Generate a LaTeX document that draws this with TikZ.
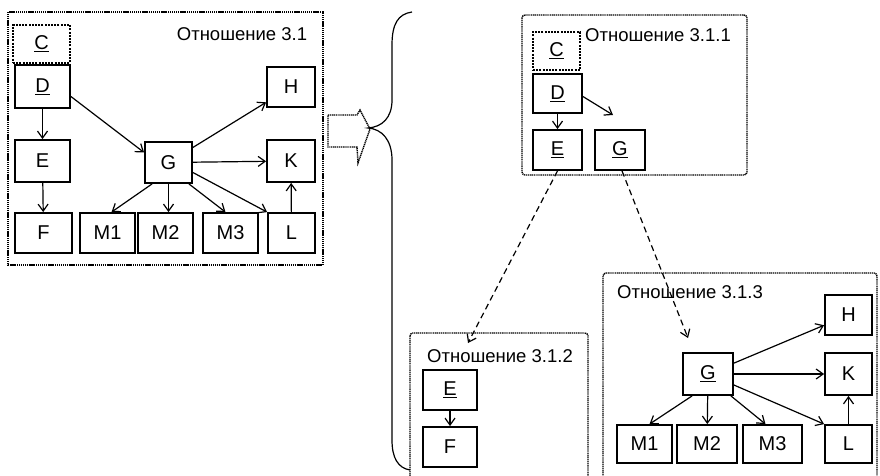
\documentclass[tikz,border=0pt]{standalone}
\usepackage{fontspec}
\setmainfont{Liberation Sans}
\usetikzlibrary{arrows.meta}

\tikzset{
  rel/.style={draw,line width=1.8pt,minimum width=55pt,minimum height=40pt,inner sep=0pt,font=\fontsize{20}{22}\selectfont},
  keybox/.style={rel,dash pattern=on 2pt off 1.2pt},
  relframe/.style={line width=1.4pt,dash pattern=on 1.2pt off 0.7pt},
  reltitle/.style={inner sep=0pt,font=\fontsize{18.5}{20}\selectfont},
  arr/.style={line width=1.2pt,-{Straight Barb[length=7pt,width=10pt]}},
  derive/.style={arr,dash pattern=on 6pt off 4pt},
}

\begin{document}
\begin{tikzpicture}[x=1pt,y=-1pt]
\clip (0,0) rectangle (880,476);
\fill[white] (0,0) rectangle (880,476);

% relation 3.1
\draw[relframe] (8,12) rectangle (323,265);
\node[reltitle] (t31) at (242,34) {Отношение 3.1};
\node[keybox,minimum width=57pt,minimum height=38pt] (c) at (41.5,44) {\underline{C}};
\node[rel,minimum height=43pt] (d) at (42.5,86.5) {\underline{D}};
\node[rel,minimum height=42pt] (e) at (42.5,161) {E};
\node[rel,minimum width=57pt] (f) at (43.5,233) {F};
\node[rel] (m1) at (107.5,233) {M1};
\node[rel] (m2) at (165.5,233) {M2};
\node[rel] (m3) at (230.5,233) {M3};
\node[rel,minimum width=47pt] (l) at (291.5,233) {L};
\node[rel,minimum width=47pt,minimum height=41pt] (g) at (168.5,162.5) {G};
\node[rel,minimum width=48pt] (h) at (291,87) {H};
\node[rel,minimum width=48pt,minimum height=42pt] (k) at (291,161) {K};

\draw[arr] (d) -- (e);
\draw[arr] (e) -- (f);
\draw[arr] ([yshift=-10pt]d.east) -- ([yshift=10pt]g.west);
\draw[arr] (g) -- (h);
\draw[arr] (g) -- (k);
\draw[arr] ([xshift=8pt]g.south west) -- ([xshift=4pt]m1.north);
\draw[arr] (g.south) -- (g.south |- m2.north);
\draw[arr] ([xshift=-4pt]g.south east) -- ([xshift=-5pt]m3.north);
\draw[arr] ([yshift=-10pt]g.east) -- (l.north west);
\draw[arr] (l) -- (k);

% decomposition arrow and brace
\draw[relframe] (328,115) -- (357,115) -- (360,110) -- (370,129) -- (358,163) -- (357,147) -- (328,147) -- cycle;
\draw[line width=1.2pt] (412,12) .. controls (398,14) and (392,24) .. (392,45) -- (392,100)
  .. controls (392,118) and (382,127) .. (368,128)
  .. controls (382,129) and (392,140) .. (392,160) -- (392,440)
  .. controls (392,458) and (398,468) .. (410,470);

% relation 3.1.1
\draw[relframe,rounded corners=3pt] (522,15) rectangle (747,175);
\node[reltitle] (t311) at (658,35) {Отношение 3.1.1};
\node[keybox,minimum width=47pt,minimum height=38pt] (c1) at (556.5,51) {\underline{C}};
\node[rel,minimum width=49pt,minimum height=39pt] (d1) at (557.5,93.5) {\underline{D}};
\node[rel,minimum width=49pt] (e1) at (557.5,150) {\underline{E}};
\node[rel,minimum width=50pt] (g1) at (620,150) {\underline{G}};
\coordinate (g1in) at (613,115);
\draw[arr] (d1) -- (e1);
\draw[arr] ([yshift=-3pt]d1.east) -- (g1in);

% links to the parts
\coordinate (in312) at (468,343);
\coordinate (in313) at (688,338);
\draw[derive] (e1.south) -- (in312);
\draw[derive] ([xshift=2pt]g1.south) -- (in313);

% relation 3.1.2
\draw[relframe,rounded corners=3pt] (410,333) rectangle (588,490);
\node[reltitle] (t312) at (500,356) {Отношение 3.1.2};
\node[rel,minimum width=54pt] (e2) at (450,390) {\underline{E}};
\node[rel,minimum width=54pt] (f2) at (450,447) {F};
\draw[arr] (e2) -- (f2);

% relation 3.1.3
\draw[relframe,rounded corners=3pt] (603,273) rectangle (877,490);
\node[reltitle] (t313) at (690,292) {Отношение 3.1.3};
\node[rel,minimum width=47pt] (h3) at (848.5,315) {H};
\node[rel,minimum width=50pt,minimum height=42pt] (g3) at (708,374) {\underline{G}};
\node[rel,minimum width=47pt,minimum height=42pt] (k3) at (848.5,374) {K};
\node[rel,minimum height=38pt] (m13) at (644.5,444) {M1};
\node[rel,minimum width=60pt,minimum height=38pt] (m23) at (707,444) {M2};
\node[rel,minimum width=59pt,minimum height=38pt] (m33) at (772.5,444) {M3};
\node[rel,minimum width=47pt,minimum height=38pt] (l3) at (848.5,444) {L};

\draw[arr] (g3) -- (h3);
\draw[arr] (g3) -- (k3);
\draw[arr] ([xshift=10pt]g3.south west) -- ([xshift=5pt]m13.north);
\draw[arr] (g3) -- (m23);
\draw[arr] ([xshift=-3pt]g3.south east) -- ([xshift=-7pt]m33.north);
\draw[arr] ([yshift=-11pt]g3.east) -- (l3.north west);
\draw[arr] (l3) -- (k3);
\end{tikzpicture}
\end{document}
